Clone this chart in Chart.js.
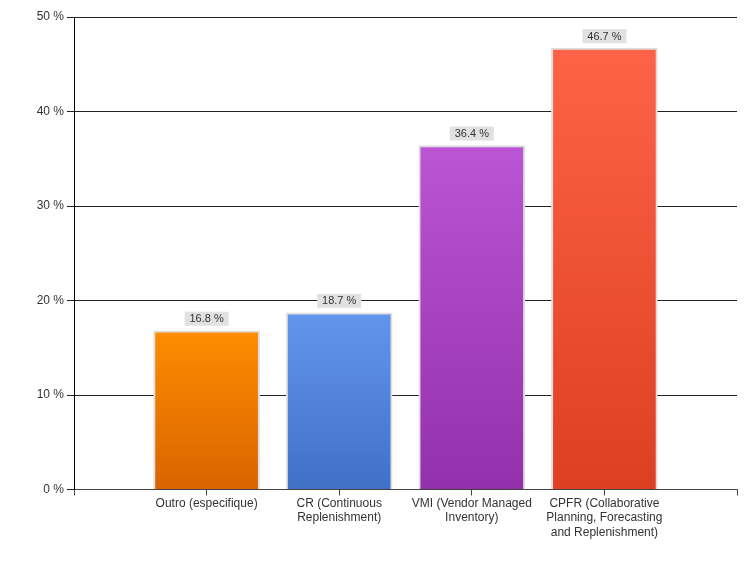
<!DOCTYPE html>
<html>
<head>
<meta charset="utf-8">
<script src="https://cdn.jsdelivr.net/npm/chart.js@4"></script>
<style>
  html, body { margin: 0; padding: 0; background: #fff; }
  #wrap { width: 756px; height: 562px; }
</style>
</head>
<body>
<div id="wrap"><canvas id="chart" width="756" height="562"></canvas></div>
<script>
// Data
const categories = [
  '',
  'Outro (especifique)',
  ['CR (Continuous', 'Replenishment)'],
  ['VMI (Vendor Managed', 'Inventory)'],
  ['CPFR (Collaborative', 'Planning, Forecasting', 'and Replenishment)'],
  ''
];
const values = [null, 16.8, 18.7, 36.4, 46.7, null];
const yTicks = [0, 10, 20, 30, 40, 50];

// top / bottom colours of each bar gradient
const topColors = [null, '#ff8c00', '#6495ed', '#ba55d3', '#ff6347', null];
const bottomColors = [null, '#d96400', '#4070c6', '#9330ab', '#dc3f22', null];

const FONT = 'Arial, "Liberation Sans", sans-serif';

function barGradient(ctx) {
  const chart = ctx.chart;
  const y = chart.scales.y;
  const v = ctx.raw;
  if (!y || v == null || ctx.type !== 'data') return '#999';
  const top = y.getPixelForValue(v);
  const bottom = y.getPixelForValue(0);
  const g = chart.ctx.createLinearGradient(0, top, 0, bottom);
  g.addColorStop(0, topColors[ctx.dataIndex]);
  g.addColorStop(1, bottomColors[ctx.dataIndex]);
  return g;
}

// value boxes above bars
const valueLabels = {
  id: 'valueLabels',
  afterDatasetsDraw(chart) {
    const c = chart.ctx;
    const meta = chart.getDatasetMeta(0);
    c.save();
    c.font = '11px ' + FONT;
    c.textAlign = 'center';
    c.textBaseline = 'middle';
    meta.data.forEach((bar, i) => {
      const v = values[i];
      if (v == null) return;
      const txt = v.toFixed(1) + ' %';
      const w = 44, h = 14;
      const bx = bar.x - w / 2;
      const by = bar.y - 5 - h;
      c.fillStyle = '#e1e1e1';
      c.fillRect(bx, by, w, h);
      c.fillStyle = '#333';
      c.fillText(txt, bar.x, by + h / 2 + 0.5);
    });
    c.restore();
  }
};

new Chart(document.getElementById('chart'), {
  type: 'bar',
  data: {
    labels: categories,
    datasets: [{
      data: values,
      backgroundColor: barGradient,
      borderColor: '#dedede',
      borderWidth: 2,
      borderSkipped: 'start',
      barThickness: 106
    }]
  },
  options: {
    responsive: false,
    animation: false,
    layout: { padding: { left: 0, right: 19, top: 17, bottom: 0 } },
    plugins: {
      legend: { display: false },
      tooltip: { enabled: false }
    },
    scales: {
      x: {
        offset: false,
        grid: { offset: false, drawOnChartArea: false, drawTicks: true, tickLength: 6, color: '#444' },
        border: { display: true, color: '#444', width: 1 },
        ticks: {
          autoSkip: false, maxRotation: 0, minRotation: 0,
          color: '#333', font: { family: FONT, size: 12 }, padding: 1
        },
        afterFit(scale) { scale.height = 72.5; }
      },
      y: {
        min: 0, max: 50,
        afterBuildTicks(scale) { scale.ticks = yTicks.map(v => ({ value: v })); },
        grid: { color: '#222', tickLength: 7, drawTicks: true },
        border: { display: true, color: '#000', width: 1 },
        ticks: {
          color: '#333', font: { family: FONT, size: 12 }, padding: 3,
          callback: v => v + ' %'
        },
        afterFit(scale) { scale.width = 74; }
      }
    }
  },
  plugins: [valueLabels]
});
</script>
</body>
</html>
